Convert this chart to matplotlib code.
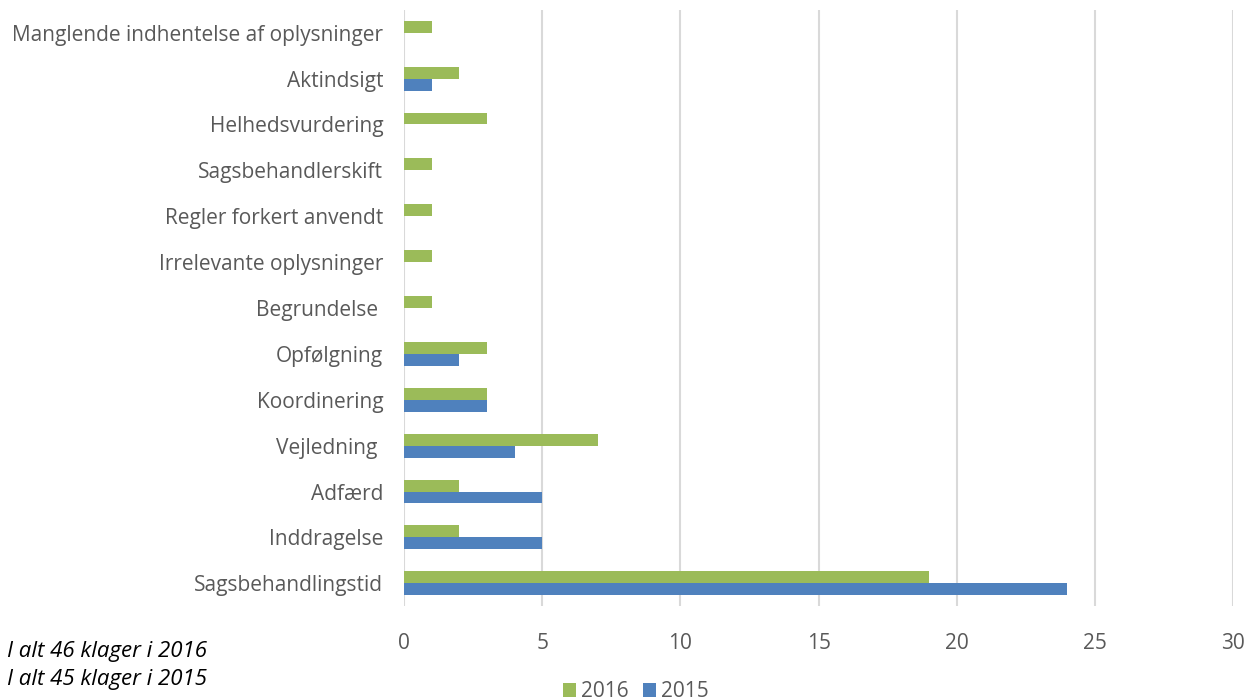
import numpy as np
import matplotlib
matplotlib.use('Agg')
import matplotlib.pyplot as plt

categories = ['Sagsbehandlingstid', 'Inddragelse', 'Adfærd', 'Vejledning ',
              'Koordinering', 'Opfølgning', 'Begrundelse ', 'Irrelevante oplysninger',
              'Regler forkert anvendt', 'Sagsbehandlerskift', 'Helhedsvurdering',
              'Aktindsigt', 'Manglende indhentelse af oplysninger']
values_2016 = [19, 2, 2, 7, 3, 3, 1, 1, 1, 1, 3, 2, 1]
values_2015 = [24, 5, 5, 4, 3, 2, 0, 0, 0, 0, 0, 1, 0]
x_ticks = [0, 5, 10, 15, 20, 25, 30]

plt.rcParams['font.family'] = ['Open Sans', 'DejaVu Sans']
green = '#9BBB59'
blue = '#4F81BD'
text_col = '#595959'

fig = plt.figure(figsize=(12.47, 7), dpi=100)
ax = fig.add_axes([0.324, 0.134, 0.665, 0.852])

y = np.arange(len(categories))
h = 0.26
ax.barh(y + h / 2, values_2016, height=h, color=green, label='2016', zorder=3)
ax.barh(y - h / 2, values_2015, height=h, color=blue, label='2015', zorder=3)

ax.set_xlim(0, 30)
ax.set_ylim(-0.5, len(categories) - 0.5)
ax.set_xticks(x_ticks)
ax.set_yticks(y)
ax.set_yticklabels(categories)
ax.tick_params(axis='both', length=0, labelsize=15, colors=text_col)
ax.tick_params(axis='y', pad=15)
ax.tick_params(axis='x', pad=19)
ax.grid(axis='x', color='#D9D9D9', linewidth=1.5, zorder=0)
for s in ax.spines.values():
    s.set_visible(False)

fig.text(0.006, 0.070, 'I alt 46 klager i 2016', fontsize=16, style='italic',
         color='black', va='center')
fig.text(0.006, 0.029, 'I alt 45 klager i 2015', fontsize=16, style='italic',
         color='black', va='center')

fig.legend(loc='lower center', bbox_to_anchor=(0.51, -0.03), ncol=2, frameon=False,
           fontsize=15, handlelength=0.6, handleheight=0.6, handletextpad=0.25,
           columnspacing=0.7, labelcolor=text_col)

plt.savefig('out.png', dpi=100)
